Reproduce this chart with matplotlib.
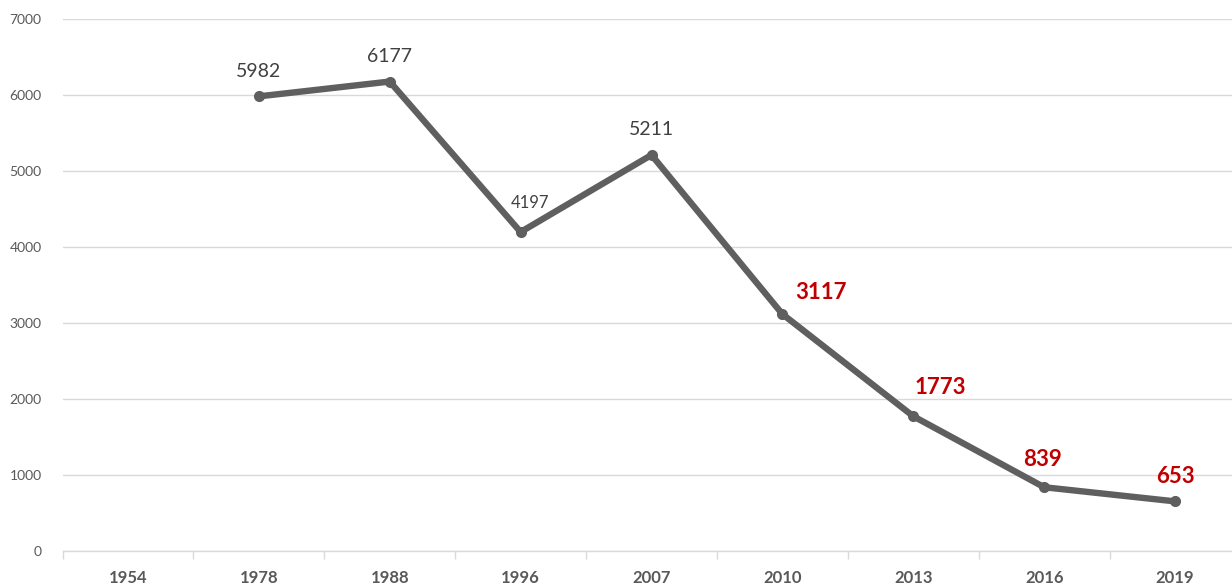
import matplotlib
matplotlib.use("Agg")
import matplotlib.pyplot as plt
import numpy as np

years = ["1954", "1978", "1988", "1996", "2007", "2010", "2013", "2016", "2019"]
values = [np.nan, 5982, 6177, 4197, 5211, 3117, 1773, 839, 653]
highlight = [False, False, False, False, False, True, True, True, True]
yticks = [0, 1000, 2000, 3000, 4000, 5000, 6000, 7000]

# label offsets in pixels (dx, dy) and sizes
offsets = [(0, 0), (0, 25), (0, 25), (9, 29), (0, 25), (39, 22), (27, 29), (-2, 28), (0, 25)]
sizes = [14, 14, 14, 12, 14, 16, 16, 16, 16]

plt.rcParams['font.family'] = ['Lato', 'DejaVu Sans']

fig = plt.figure(figsize=(12.32, 5.84), dpi=100)
W, H = 1232, 584
left, right, bottom, top = 62.5, 1240.5, 551, 19
ax = fig.add_axes([left / W, (H - bottom) / H, (right - left) / W, (bottom - top) / H])

x = np.arange(len(years))
line_color = "#5f5f5f"
ax.plot(x, values, color=line_color, lw=4.6, solid_capstyle='round', solid_joinstyle='round',
        marker='o', markersize=7, zorder=3)

for xi, v, hl, (dx, dy), fs in zip(x, values, highlight, offsets, sizes):
    if np.isnan(v):
        continue
    ax.annotate(f"{int(v)}", (xi, v), xytext=(dx, dy), textcoords='offset pixels',
                ha='center', va='center', fontsize=fs,
                color="#c00000" if hl else "#404040",
                fontweight='bold' if hl else 'normal', zorder=4)

ax.set_xlim(-0.5, len(years) - 0.5)
ax.set_ylim(0, 7000)
ax.set_yticks(yticks)
ax.set_yticklabels([str(t) for t in yticks], fontsize=10, color="#595959")
ax.tick_params(axis='y', length=0, pad=15)
ax.grid(axis='y', color="#d9d9d9", lw=1)
ax.set_axisbelow(True)

ax.set_xticks(x)
ax.set_xticklabels(years, fontsize=12, fontweight='bold', color="#595959")
ax.set_xticks(np.arange(-0.5, len(years)), minor=True)
ax.tick_params(axis='x', which='major', length=0, pad=14)
ax.tick_params(axis='x', which='minor', length=6, color="#d9d9d9", width=1)

for s in ['top', 'right', 'left']:
    ax.spines[s].set_visible(False)
ax.spines['bottom'].set_color("#d9d9d9")
ax.spines['bottom'].set_linewidth(1)

fig.savefig("out.png", dpi=100)
